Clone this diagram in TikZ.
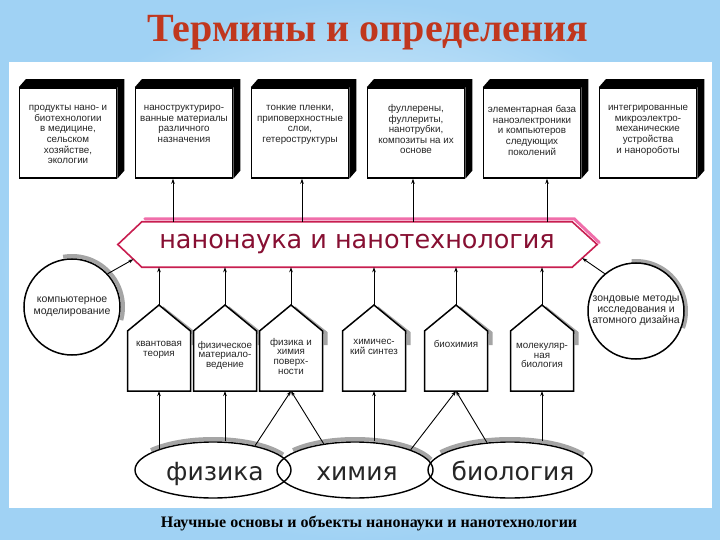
\documentclass[tikz,border=0pt]{standalone}
\usepackage{fontspec}
\setmainfont{Liberation Serif}
\newfontfamily\sansf{Liberation Sans}
\newfontfamily\bigsans{DejaVu Sans}
\usetikzlibrary{arrows.meta,calc,shapes.geometric}
\definecolor{titlered}{RGB}{192,55,30}
\definecolor{crim}{RGB}{200,30,80}
\definecolor{crimtext}{RGB}{135,15,50}
\definecolor{pinkglow}{RGB}{240,110,170}
\definecolor{bgblue}{RGB}{160,210,244}
\definecolor{shadowgray}{RGB}{165,165,165}
\begin{document}
\begin{tikzpicture}[x=1pt,y=1pt,
  arr/.style={-{Stealth[length=5pt,width=3.5pt]}, line width=0.9pt},
  topbox/.style={draw=black, line width=1.5pt, fill=white, minimum width=97pt, minimum height=90pt, inner sep=0pt},
  boxtxt/.style={font=\sansf\fontsize{9.8}{10.6}\selectfont, align=center, anchor=north, text=black!85, inner sep=0pt},
  housetxt/.style={font=\sansf\fontsize{9.8}{9.6}\selectfont, align=center, anchor=north, text=black!85, inner sep=0pt},
  house/.style={draw=black, line width=1.5pt, line join=miter},
  circnode/.style={circle, draw=black, line width=1.5pt, minimum size=96pt, inner sep=0pt, align=center, font=\sansf\fontsize{10.5}{12}\selectfont, text=black!85},
  ellnode/.style={ellipse, draw=black, line width=1.4pt, inner sep=0pt},
  biglabel/.style={font=\bigsans\fontsize{25}{28}\selectfont, anchor=base, text=black!85},
  shadowline/.style={shadowgray, line width=4pt},
]
\useasboundingbox (0,0) rectangle (720,-540);
\shade[inner color=white, outer color=bgblue] (0,0) rectangle (720,-540);
\fill[white] (9,-62) rectangle (712,-508);

\node[font=\bfseries\fontsize{40}{44}\selectfont, text=titlered, anchor=base] (title) at (368,-42) {Термины и определения};

% top 3D boxes
\foreach \i/\x in {1/68,2/184,3/300,4/416,5/532,6/648}{
  \node[topbox] (t\i) at (\x,-133) {};
  \fill[black] (t\i.north west) -- ++(7,8) -- ($(t\i.north east)+(7,8)$) -- ($(t\i.south east)+(7,8)$) -- (t\i.south east) -- (t\i.north east) -- cycle;
}
\node[boxtxt] (tt1) at ([yshift=-18]t1.north) {продукты нано- и\\биотехнологии\\в медицине,\\сельском\\хозяйстве,\\экологии};
\node[boxtxt] (tt2) at ([yshift=-18]t2.north) {наноструктуриро-\\ванные материалы\\различного\\назначения};
\node[boxtxt] (tt3) at ([yshift=-18]t3.north) {тонкие пленки,\\приповерхностные\\слои,\\гетероструктуры};
\node[boxtxt] (tt4) at ([yshift=-17]t4.north) {фуллерены,\\фуллериты,\\нанотрубки,\\композиты на их\\основе};
\node[boxtxt] (tt5) at ([yshift=-18]t5.north) {элементарная база\\наноэлектроники\\и компьютеров\\следующих\\поколений};
\node[boxtxt] (tt6) at ([yshift=-18]t6.north) {интегрированные\\микроэлектро-\\механические\\устройства\\и нанороботы};

% central banner
\node[font=\bigsans\fontsize{25.5}{28}\selectfont, text=crimtext, minimum width=430pt, minimum height=45pt, inner sep=0pt] (hx) at (357,-244.5) {нанонаука и нанотехнология};
\draw[pinkglow, line width=3pt, line cap=round] ([shift={(3,3)}]hx.north west) -- ([shift={(2,3)}]hx.north east) -- ([shift={(27,2)}]hx.east);
\draw[crim, line width=1.6pt] (hx.north west) -- (hx.north east) -- ([xshift=25]hx.east) -- (hx.south east) -- (hx.south west) -- ([xshift=-24]hx.west) -- cycle;
\coordinate (hxl) at ([xshift=-24]hx.west);
\coordinate (hxr) at ([xshift=25]hx.east);

% arrows banner -> top boxes
\foreach \i/\dx in {2/-11,3/2,4/-3,5/15}{
  \draw[arr] ([xshift=\dx]t\i.south |- hx.north) -- ([xshift=\dx]t\i.south);
}

% side circles
\draw[shadowline] ([shift={(100:51)}]72,-307) arc (100:-15:51);
\node[circnode] (cl) at (72,-307) {компьютерное\\моделирование};
\draw[shadowline] ([shift={(95:50)}]636,-311) arc (95:-20:50);
\node[circnode, font=\sansf\fontsize{10.5}{11}\selectfont] (cr) at (636,-311) {зондовые методы\\исследования и\\атомного дизайна};
\draw[arr] (cl.43) -- ($(hxl)!0.65!(hx.south west)$);
\draw[arr] (cr.130) -- ($(hxr)!0.6!(hx.south east)$);

% houses
\foreach \i/\x in {1/159,2/225,3/291,4/374,5/456,6/542}{
  \draw[shadowline] (\x+3,-308) -- (\x+34.5,-333) -- (\x+34.5,-345);
  \draw[house, fill=white] (\x-31.5,-391) -- (\x-31.5,-331) -- (\x,-305) -- (\x+31.5,-331) -- (\x+31.5,-391) -- cycle;
  \coordinate (hp\i) at (\x,-305);
  \coordinate (hb\i) at (\x,-391);
  \draw[arr] (hp\i) -- (hp\i |- hx.south);
}
\node[housetxt] (h1) at (159,-341) {квантовая\\теория};
\node[housetxt] (h2) at (225,-341) {физическое\\материало-\\ведение};
\node[housetxt] (h3) at (291,-338) {физика и\\химия\\поверх-\\ности};
\node[housetxt] (h4) at (374,-339) {химичес-\\кий синтез};
\node[housetxt] (h5) at (456,-340) {биохимия};
\node[housetxt] (h6) at (542,-343) {молекуляр-\\ная\\биология};

% ellipses
\draw[shadowline] ([shift={(140:81 and 31)}]213,-470) arc[start angle=140, end angle=30, x radius=81, y radius=31];
\draw[shadowline] ([shift={(140:81 and 31)}]355,-470) arc[start angle=140, end angle=20, x radius=81, y radius=31];
\draw[shadowline] ([shift={(145:85 and 31)}]510,-470) arc[start angle=145, end angle=30, x radius=85, y radius=31];
\node[ellnode, minimum width=156pt, minimum height=56pt] (e1) at (213,-470) {};
\node[ellnode, minimum width=156pt, minimum height=56pt] (e2) at (355,-470) {};
\node[ellnode, minimum width=164pt, minimum height=56pt] (e3) at (510,-470) {};
\node[biglabel] (l1) at (215,-480) {физика};
\node[biglabel] (l2) at (357,-480) {химия};
\node[biglabel] (l3) at (513,-480) {биология};

% connectors ellipses -> houses
\draw[arr] (hb1 |- e1.160) -- (hb1);
\draw[arr] (hb2 |- e1.north) -- (hb2);
\draw[arr] (e1.30) -- (hb3);
\draw[arr] (e2.140) -- (hb3);
\draw[arr] (hb4 |- e2.north) -- (hb4);
\draw[arr] (e2.20) -- (hb5);
\draw[arr] (e3.130) -- (hb5);
\draw[arr] (hb6 |- e3.north) -- (hb6);

\node[font=\bfseries\fontsize{16}{18}\selectfont] (cap) at (369,-523) {Научные основы и объекты нанонауки и нанотехнологии};
\end{tikzpicture}
\end{document}
